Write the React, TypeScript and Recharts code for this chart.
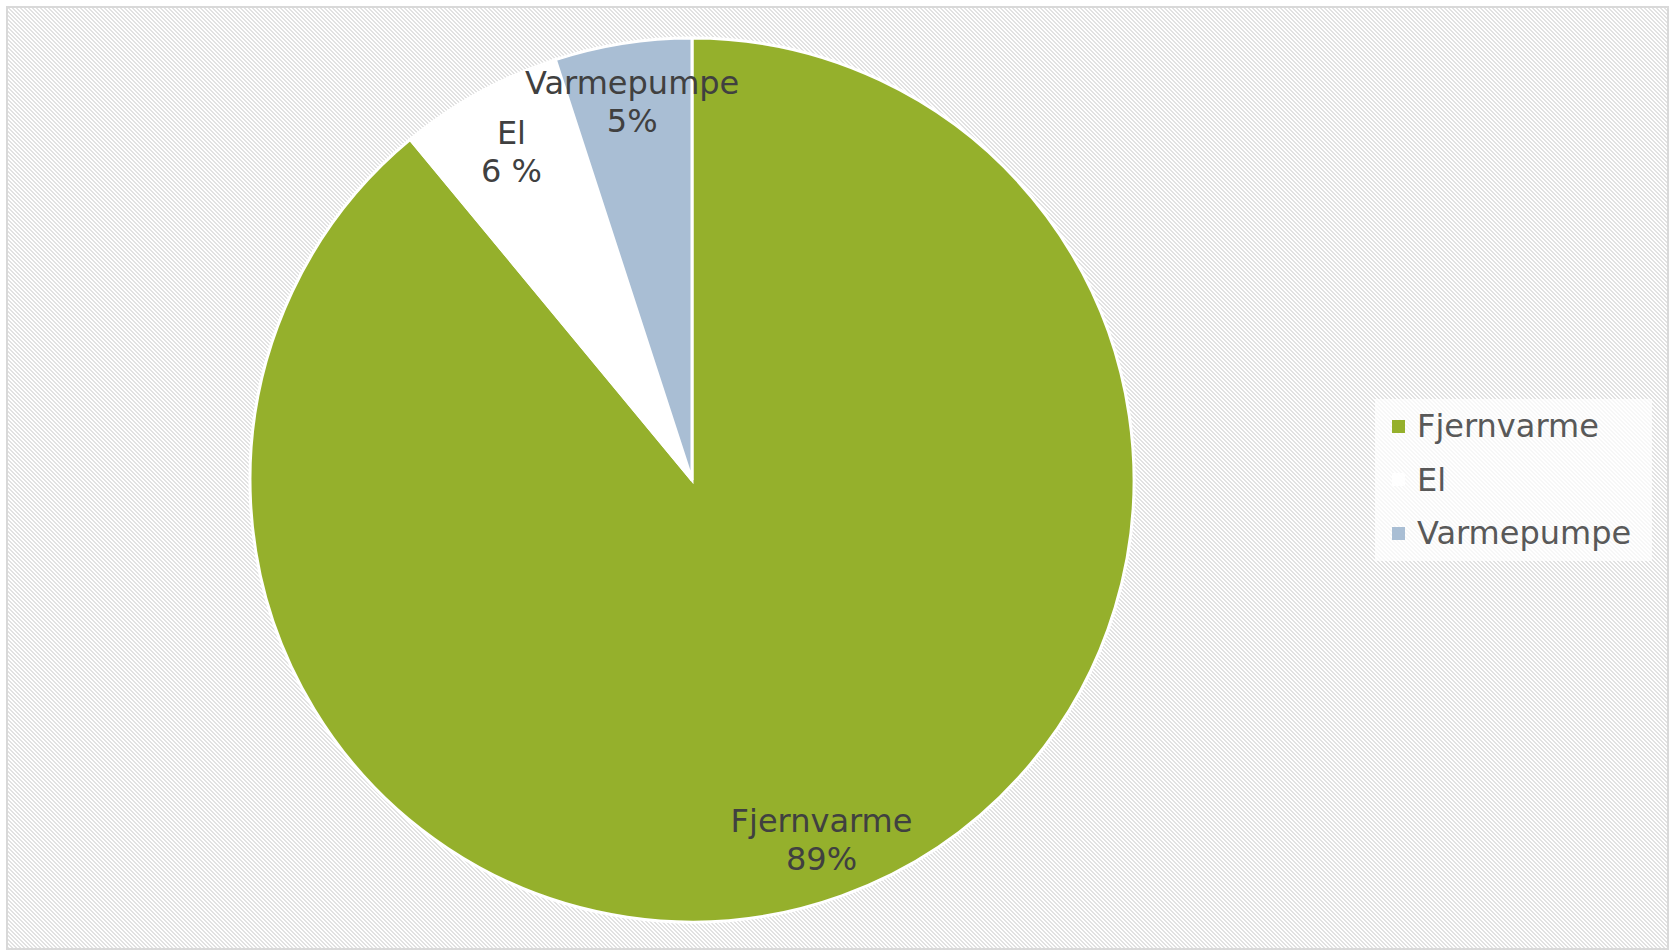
import { PieChart, Pie, Cell, Legend } from 'recharts';

const categories = ['Fjernvarme', 'El', 'Varmepumpe'];
const shares = [89, 6, 5];
const shareLabels = ['89%', '6 %', '5%'];
const sliceColors = ['#95b02c', '#ffffff', '#a9bed4'];

const W = 1669;
const H = 950;
const FONT = '"DejaVu Sans", Verdana, sans-serif';
const RAD = Math.PI / 180;

const chartData = categories.map((name, i) => ({
  name,
  value: shares[i],
  label: shareLabels[i],
}));

function SliceLabel(props: any) {
  const { cx, cy, midAngle, outerRadius, index } = props;
  // the small slice label sits a bit further in, like in the original
  const r = outerRadius * (index === 1 ? 0.848 : 0.865);
  const x = cx + r * Math.cos(-midAngle * RAD);
  const y = cy + r * Math.sin(-midAngle * RAD);
  return (
    <text x={x} y={y} fill="#404040" fontSize={32} fontFamily={FONT} textAnchor="middle">
      <tspan x={x} dy={-8}>{categories[index]}</tspan>
      <tspan x={x} dy={38}>{shareLabels[index]}</tspan>
    </text>
  );
}

function LegendBox({ payload }: any) {
  const items = [...(payload || [])].sort(
    (a: any, b: any) => categories.indexOf(a.value) - categories.indexOf(b.value)
  );
  return (
    <div
      style={{
        width: 277,
        height: 162,
        background: 'rgba(255,255,255,0.72)',
        position: 'relative',
        fontFamily: FONT,
      }}
    >
      {items.map((item: any, i: number) => (
        <div
          key={item.value}
          style={{
            position: 'absolute',
            left: 0,
            top: 27 + i * 53.5 - 20,
            height: 40,
            display: 'flex',
            alignItems: 'center',
          }}
        >
          <span
            style={{
              display: 'inline-block',
              width: 13,
              height: 13,
              marginLeft: 17,
              background: item.color,
            }}
          />
          <span style={{ marginLeft: 12, fontSize: 32, color: '#595959' }}>{item.value}</span>
        </div>
      ))}
    </div>
  );
}

export default function App() {
  return (
    <div style={{ position: 'absolute', left: 0, top: 0, width: W, height: H, background: '#fff' }}>
      <svg width={W} height={H} style={{ position: 'absolute', left: 0, top: 0 }}>
        <defs>
          <pattern id="hatch" width={4} height={4} patternUnits="userSpaceOnUse">
            <rect width={4} height={4} fill="#ffffff" />
            <rect x={0} y={0} width={2} height={1} fill="#e2e2e2" />
            <rect x={1} y={1} width={2} height={1} fill="#e2e2e2" />
            <rect x={2} y={2} width={2} height={1} fill="#e2e2e2" />
            <rect x={3} y={3} width={1} height={1} fill="#e2e2e2" />
            <rect x={0} y={3} width={1} height={1} fill="#e2e2e2" />
          </pattern>
        </defs>
        <rect x={7} y={7} width={1661} height={942} fill="url(#hatch)" stroke="#d9d9d9" strokeWidth={2} />
      </svg>
      <div style={{ position: 'absolute', left: 0, top: 0 }}>
        <PieChart width={W} height={H}>
          <Pie
            data={chartData}
            dataKey="value"
            nameKey="name"
            cx={687}
            cy={475}
            outerRadius={442}
            startAngle={90}
            endAngle={-270}
            stroke="#ffffff"
            strokeWidth={3}
            label={SliceLabel}
            labelLine={false}
            isAnimationActive={false}
          >
            {chartData.map((d, i) => (
              <Cell key={d.name} fill={sliceColors[i]} />
            ))}
          </Pie>
          <Legend
            layout="vertical"
            align="right"
            verticalAlign="top"
            content={LegendBox}
            wrapperStyle={{ left: 1375, top: 399, width: 277, right: 'auto' }}
          />
        </PieChart>
      </div>
    </div>
  );
}
